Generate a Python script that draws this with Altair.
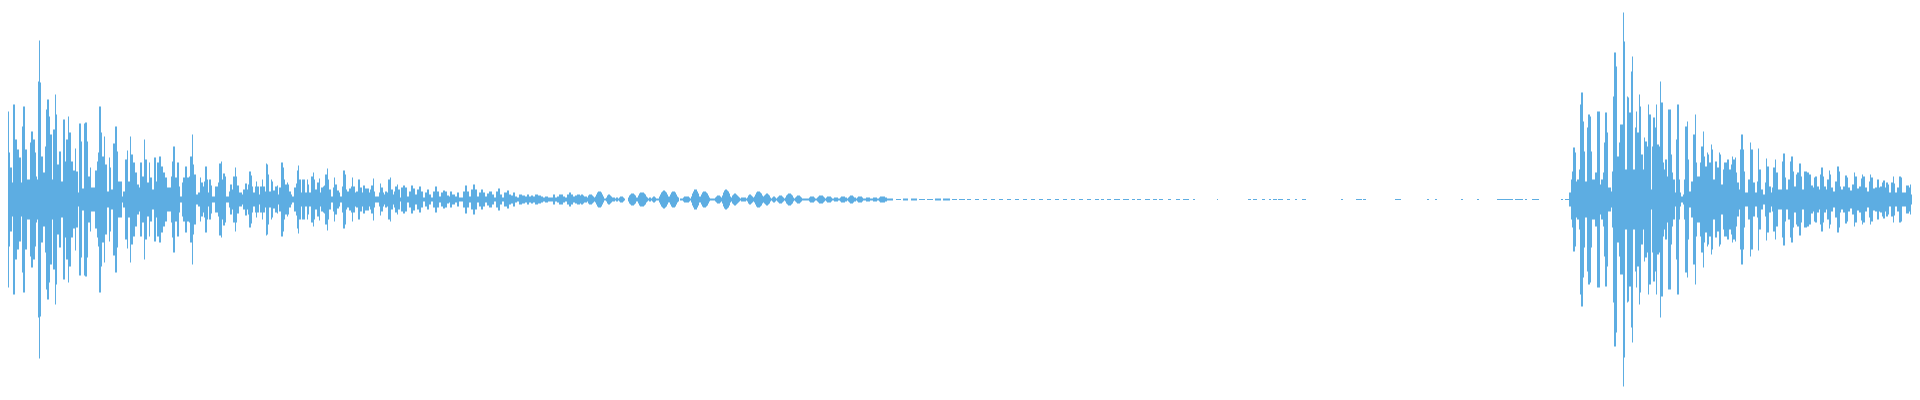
import altair as alt
import pandas as pd

COLOR = "#5dade2"

# First burst: (sample position, peak amplitude) read column group by column group
BURST1 = [
    (0, 32), (3, 27), (6, 63), (7, 88), (9, 47), (10, 32), (12, 17), (13, 95), (15, 60), (17, 50),
    (19, 42), (21, 17), (22, 73), (23, 93), (25, 50), (27, 20), (30, 57), (31, 68), (33, 60), (35, 47),
    (36, 23), (37, 20), (38, 118), (39, 159), (40, 117), (41, 43), (43, 27), (45, 53), (46, 90), (47, 100),
    (49, 83), (50, 65), (52, 20), (53, 70), (55, 105), (56, 85), (57, 35), (59, 48), (61, 18), (63, 80),
    (65, 38), (66, 60), (68, 83), (69, 67), (71, 38), (73, 29), (75, 51), (76, 28), (78, 7), (79, 76),
    (81, 58), (82, 11), (84, 76), (85, 77), (87, 58), (88, 23), (90, 32), (91, 12), (95, 29), (97, 38),
    (98, 47), (99, 93), (101, 67), (102, 43), (104, 63), (105, 35), (107, 8), (109, 42), (110, 32), (111, 10),
    (113, 56), (115, 73), (117, 48), (118, 18), (122, 3), (123, 8), (125, 40), (127, 49), (128, 18), (130, 63),
    (131, 45), (133, 37), (135, 27), (137, 15), (139, 12), (140, 37), (142, 23), (144, 60), (145, 40), (147, 17),
    (149, 37), (150, 22), (152, 10), (154, 42), (156, 18), (157, 37), (159, 43), (161, 33), (163, 27), (165, 22),
    (167, 12), (171, 23), (172, 38), (173, 53), (175, 22), (177, 37), (179, 13), (180, 3), (182, 17), (183, 22),
    (185, 33), (187, 22), (189, 23), (190, 43), (192, 65), (193, 35), (194, 25), (196, 5), (198, 7), (200, 22),
    (201, 17), (203, 13), (204, 18), (205, 33), (207, 20), (208, 7), (209, 20), (211, 14), (212, 3), (215, 13),
    (218, 17), (219, 36), (221, 38), (222, 20), (223, 26), (225, 23), (226, 3), (229, 8), (230, 15), (232, 10),
    (233, 23), (235, 32), (236, 23), (237, 14), (239, 7), (242, 5), (243, 10), (245, 16), (247, 10), (248, 15),
    (249, 28), (251, 24), (252, 13), (253, 7), (255, 13), (256, 18), (257, 13), (259, 5), (260, 13), (262, 20),
    (263, 13), (265, 8), (266, 36), (267, 35), (268, 25), (269, 8), (271, 20), (272, 18), (273, 9), (275, 13),
    (277, 14), (278, 5), (279, 12), (281, 37), (283, 32), (284, 20), (285, 15), (287, 17), (288, 15), (289, 8),
    (291, 5), (292, 3), (294, 12), (296, 16), (297, 29), (298, 34), (299, 20), (301, 7), (302, 20), (305, 7),
    (307, 20), (308, 15), (309, 7), (311, 23), (313, 27), (314, 20), (315, 10), (317, 17), (319, 21), (320, 7),
    (321, 12), (323, 13), (324, 14), (325, 25), (327, 31), (328, 20), (329, 10), (331, 3), (333, 12), (334, 22),
    (335, 15), (337, 9), (339, 7), (340, 3), (342, 13), (343, 29), (345, 25), (346, 10), (347, 8), (349, 11),
    (351, 13), (352, 22), (353, 13), (355, 7), (356, 8), (358, 20), (360, 12), (362, 7), (363, 14), (365, 11),
    (369, 7), (370, 10), (371, 14), (373, 21), (374, 8), (375, 3), (379, 7), (380, 16), (381, 12), (383, 7),
    (384, 5), (385, 8), (387, 7), (388, 20), (390, 22), (391, 10), (393, 5), (394, 8), (395, 13), (397, 15),
    (398, 10), (400, 2), (401, 12), (403, 14), (405, 12), (407, 3), (409, 8), (411, 14), (413, 11), (415, 5),
    (417, 10), (419, 13), (421, 8), (423, 2), (425, 7), (427, 10), (429, 5), (431, 2), (433, 8), (435, 13),
    (437, 8), (439, 3), (441, 7), (443, 9), (445, 8), (447, 4), (449, 3), (450, 8), (452, 5), (455, 3),
    (457, 7), (459, 2), (463, 8), (465, 14), (467, 8), (469, 3), (471, 10), (473, 15), (475, 10), (477, 3),
    (479, 7), (481, 10), (483, 7), (485, 3), (487, 6), (489, 8), (492, 5), (494, 2), (496, 8), (498, 11),
    (500, 5), (502, 2), (504, 7), (507, 9), (509, 5), (511, 4), (513, 7), (515, 3), (517, 2), (519, 5),
    (522, 4), (525, 3), (527, 5), (529, 3), (531, 4), (533, 3), (535, 5), (538, 4), (541, 3), (543, 2),
    (545, 3), (548, 2), (553, 5), (555, 2), (557, 3), (559, 5), (561, 5), (563, 3), (565, 2), (567, 5),
    (569, 7), (571, 5), (573, 3), (575, 4), (577, 5),
]

# Fading "bubbles": one amplitude per sample column, starting at sample 580
BUBBLES_START = 580
BUBBLES = [
    4, 5, 5, 4, 3, 3, 3, 2, 4, 5, 5, 5, 4, 3, 2, 3, 5, 7, 8, 8, 8, 7, 5, 3, 1, 1,
    2, 4, 5, 5, 4, 3, 2, 2, 2, 1, 2, 2, 1, 2, 3, 3, 3, 2, 1, 0, 0, 0,
    2, 4, 5, 6, 6, 6, 5, 4, 2, 2, 4, 6, 7, 7, 7, 7, 6, 5, 3, 2, 1, 2, 2, 1, 2, 3, 3, 2, 1, 1, 1,
    3, 5, 7, 8, 9, 9, 8, 7, 5, 3, 3, 5, 7, 8, 8, 8, 7, 5, 3, 2, 0, 1, 1, 1,
    2, 3, 3, 3, 3, 3, 2, 1, 3, 6, 8, 10, 10, 10, 8, 6, 3, 3, 5, 7, 8, 8, 8, 7, 6, 4, 2,
    1, 1, 1, 1, 1, 2, 3, 4, 4, 4, 3, 2, 4, 7, 9, 10, 10, 9, 8, 6, 3, 2, 4, 5, 6, 6, 5, 4, 3, 2,
    1, 2, 2, 2, 2, 2, 1, 2, 4, 5, 5, 4, 3, 2, 3, 5, 7, 8, 8, 8, 7, 6, 4, 3, 4, 5, 6, 6, 5, 4, 2,
    1, 2, 3, 3, 2, 1, 2, 3, 4, 4, 4, 3, 2, 1, 2, 4, 5, 6, 6, 6, 5, 4, 2, 1, 2, 3, 4, 4, 4, 3, 2, 1,
    1, 1, 1, 1, 1, 1, 2, 3, 3, 3, 3, 2, 1, 1, 2, 3, 4, 4, 4, 4, 3, 2, 1, 2, 3, 3, 3, 3, 2, 1,
    1, 2, 2, 2, 2, 1, 1, 2, 3, 3, 3, 3, 2, 2, 1, 2, 3, 4, 4, 4, 3, 2, 2, 1, 2, 3, 3, 3, 3, 2, 1, 1,
    1, 2, 2, 2, 2, 1, 1, 1, 2, 2, 2, 2, 1, 1, 2, 3, 3, 3, 3, 3, 2, 2, 1, 1,
]

# Near-silent stretch: short flat dashes (start, end, amplitude)
DASHES = [
    (889, 893, 1), (896, 901, 0.5), (903, 908, 1), (911, 917, 1), (919, 925, 0.5), (927, 933, 0.5),
    (935, 941, 1), (943, 950, 1), (952, 957, 0.5), (959, 965, 0.5), (967, 971, 0.5), (975, 979, 0.5),
    (983, 987, 0.5), (991, 995, 0.5), (999, 1003, 0.5), (1007, 1011, 0.5), (1015, 1019, 0.5), (1023, 1027, 0.5),
    (1031, 1035, 0.5), (1039, 1043, 0.5), (1047, 1051, 0.5), (1055, 1059, 0.5), (1063, 1067, 0.5), (1071, 1075, 0.5),
    (1079, 1083, 0.5), (1087, 1091, 0.5), (1095, 1099, 0.5), (1101, 1104, 0.5), (1107, 1111, 0.5), (1114, 1120, 0.5),
    (1123, 1129, 0.5), (1132, 1135, 0.5), (1137, 1141, 0.5), (1145, 1150, 0.5), (1153, 1157, 0.5), (1159, 1163, 0.5),
    (1168, 1171, 0.5), (1176, 1180, 0.5), (1183, 1189, 0.5), (1193, 1195, 0.5), (1217, 1218, 0.5), (1248, 1251, 0.5),
    (1253, 1257, 0.5), (1262, 1265, 0.5), (1269, 1271, 0.5), (1273, 1277, 0.5), (1278, 1283, 0.5), (1287, 1290, 0.5),
    (1295, 1297, 0.5), (1302, 1306, 0.5), (1341, 1343, 0.5), (1356, 1362, 0.5), (1363, 1366, 0.5), (1395, 1401, 0.5),
    (1427, 1429, 0.5), (1435, 1437, 0.5), (1461, 1463, 0.5), (1477, 1479, 0.5), (1497, 1513, 0.5), (1515, 1523, 0.5),
    (1525, 1527, 0.5), (1532, 1539, 0.5), (1561, 1563, 0.5), (1565, 1569, 0.5),
]

# Second burst: (sample position, peak amplitude)
BURST2 = [
    (1569, 7), (1571, 20), (1572, 28), (1573, 52), (1575, 47), (1576, 18), (1577, 20), (1579, 30), (1580, 95), (1581, 107),
    (1583, 78), (1584, 48), (1585, 18), (1587, 72), (1588, 85), (1590, 83), (1591, 48), (1592, 20), (1594, 20), (1595, 27),
    (1597, 88), (1599, 88), (1600, 15), (1601, 20), (1603, 27), (1604, 57), (1605, 87), (1607, 67), (1608, 12), (1611, 8),
    (1612, 28), (1613, 103), (1614, 147), (1616, 133), (1617, 43), (1619, 57), (1620, 75), (1623, 187), (1624, 158), (1625, 30),
    (1627, 103), (1628, 102), (1629, 87), (1631, 128), (1632, 143), (1633, 30), (1635, 72), (1636, 88), (1637, 67), (1639, 105),
    (1640, 93), (1641, 45), (1643, 30), (1644, 62), (1645, 58), (1647, 53), (1648, 95), (1649, 85), (1651, 10), (1652, 53),
    (1653, 82), (1655, 72), (1656, 95), (1657, 55), (1659, 53), (1660, 118), (1661, 97), (1663, 37), (1664, 30), (1665, 40),
    (1667, 23), (1668, 90), (1671, 45), (1672, 27), (1673, 20), (1675, 7), (1676, 60), (1677, 95), (1679, 20), (1680, 7),
    (1681, 3), (1683, 5), (1684, 20), (1685, 73), (1687, 78), (1688, 40), (1689, 8), (1691, 18), (1693, 65), (1695, 85),
    (1696, 37), (1697, 23), (1700, 37), (1701, 53), (1703, 68), (1704, 43), (1705, 33), (1707, 47), (1708, 45), (1709, 37),
    (1711, 55), (1712, 50), (1713, 20), (1715, 38), (1717, 32), (1719, 47), (1720, 45), (1721, 15), (1723, 30), (1724, 37),
    (1727, 40), (1729, 30), (1731, 35), (1732, 43), (1733, 40), (1735, 42), (1736, 27), (1737, 17), (1739, 10), (1740, 50),
    (1741, 65), (1743, 50), (1744, 28), (1745, 7), (1748, 20), (1750, 57), (1751, 50), (1753, 17), (1755, 7), (1757, 18),
    (1758, 51), (1759, 30), (1761, 10), (1763, 5), (1765, 17), (1766, 41), (1767, 33), (1769, 13), (1771, 7), (1772, 12),
    (1773, 32), (1775, 40), (1776, 27), (1778, 10), (1782, 38), (1783, 46), (1785, 22), (1786, 10), (1788, 20), (1790, 38),
    (1791, 43), (1793, 28), (1794, 13), (1796, 25), (1797, 27), (1799, 36), (1801, 23), (1802, 10), (1804, 28), (1807, 27),
    (1809, 25), (1811, 14), (1813, 12), (1814, 22), (1815, 23), (1817, 13), (1819, 10), (1820, 25), (1821, 32), (1823, 23),
    (1824, 13), (1826, 10), (1827, 20), (1829, 29), (1830, 25), (1831, 12), (1833, 8), (1835, 18), (1837, 33), (1839, 28),
    (1840, 13), (1841, 10), (1843, 13), (1845, 24), (1847, 22), (1848, 12), (1850, 9), (1852, 15), (1854, 27), (1855, 23),
    (1857, 11), (1859, 13), (1861, 21), (1862, 25), (1863, 23), (1865, 12), (1867, 8), (1869, 18), (1870, 25), (1871, 22),
    (1873, 11), (1875, 12), (1877, 20), (1879, 12), (1880, 13), (1882, 17), (1883, 19), (1885, 12), (1886, 17), (1888, 15),
    (1889, 7), (1891, 17), (1893, 23), (1894, 16), (1895, 7), (1897, 12), (1899, 23), (1901, 22), (1902, 7), (1906, 14),
    (1909, 12), (1910, 15), (1911, 5), (1913, 8), (1915, 13), (1917, 14), (1918, 10),
]
TOTAL_SAMPLES = 1920

rows = []


def add_steps(pairs, end):
    for i, (x, a) in enumerate(pairs):
        x2 = pairs[i + 1][0] if i + 1 < len(pairs) else end
        rows.append({"x": x, "x2": x2, "lo": -a, "hi": a})


add_steps(BURST1, BUBBLES_START)
for i, a in enumerate(BUBBLES):
    rows.append({"x": BUBBLES_START + i, "x2": BUBBLES_START + i + 1, "lo": -a, "hi": a})
for s, e, a in DASHES:
    rows.append({"x": s, "x2": e, "lo": -a, "hi": a})
add_steps(BURST2, TOTAL_SAMPLES)

df = pd.DataFrame(rows)
df = df[df["hi"] > 0]

chart = (
    alt.Chart(df)
    .mark_rect(color=COLOR, clip=True)
    .encode(
        x=alt.X("x:Q", scale=alt.Scale(domain=[8, 1912], nice=False, zero=False), axis=None),
        x2="x2:Q",
        y=alt.Y("lo:Q", scale=alt.Scale(domain=[-192.5, 191.5], nice=False, zero=False), axis=None),
        y2="hi:Q",
    )
    .properties(
        width=1904,
        height=384,
        padding=0,
        autosize=alt.AutoSizeParams(type="fit", contains="padding"),
        background="white",
    )
    .configure_view(stroke=None)
)

chart.save("out.html", embed_options={"renderer": "svg", "actions": False})
